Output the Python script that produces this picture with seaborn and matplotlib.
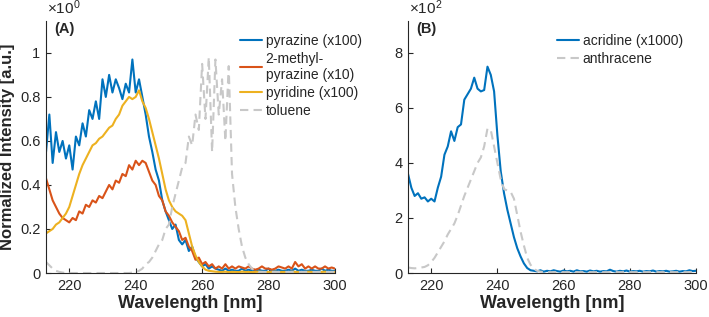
import numpy as np
import pandas as pd
import matplotlib
matplotlib.use('Agg')
import matplotlib.pyplot as plt
import seaborn as sns

# wavelength grid (nm), 1 nm steps
WL = list(range(213, 301))

# panel A (normalized, x10^0)
pyrazine = [0.55, 0.72, 0.50, 0.64, 0.55, 0.60, 0.52, 0.58, 0.47, 0.62,
            0.58, 0.68, 0.62, 0.74, 0.70, 0.78, 0.70, 0.88, 0.80, 0.90,
            0.82, 0.88, 0.84, 0.79, 0.86, 0.82, 0.97, 0.82, 0.88, 0.80,
            0.72, 0.62, 0.55, 0.47, 0.42, 0.33, 0.28, 0.24, 0.20, 0.22,
            0.15, 0.13, 0.15, 0.10, 0.12, 0.07, 0.05, 0.03, 0.04, 0.02,
            0.03, 0.02,
            0.015, 0.01, 0.02, 0.01, 0.015, 0.01, 0.01, 0.02, 0.01, 0.015,
            0.01, 0.01, 0.015, 0.01, 0.01, 0.02, 0.01, 0.01, 0.015, 0.01,
            0.01, 0.015, 0.01, 0.02, 0.01, 0.015, 0.01, 0.01, 0.015, 0.01,
            0.01, 0.02, 0.01, 0.015, 0.01, 0.01]
methylpyrazine = [0.43, 0.38, 0.33, 0.30, 0.27, 0.25, 0.24, 0.23, 0.25, 0.24,
                  0.28, 0.27, 0.31, 0.30, 0.33, 0.32, 0.35, 0.34, 0.37, 0.40,
                  0.38, 0.42, 0.41, 0.45, 0.44, 0.49, 0.47, 0.51, 0.49, 0.51,
                  0.50, 0.46, 0.42, 0.40, 0.35, 0.33, 0.28, 0.26, 0.23, 0.21,
                  0.19, 0.15, 0.16, 0.12, 0.10, 0.06, 0.07, 0.04, 0.05, 0.03,
                  0.04, 0.02,
                  0.03, 0.02, 0.04, 0.02, 0.03, 0.02, 0.03, 0.025, 0.02, 0.03,
                  0.02, 0.015, 0.02, 0.03, 0.02, 0.02, 0.015, 0.02, 0.03, 0.025,
                  0.02, 0.03, 0.02, 0.05, 0.03, 0.04, 0.02, 0.03, 0.02, 0.03,
                  0.02, 0.02, 0.03, 0.02, 0.025, 0.02]
pyridine = [0.18, 0.19, 0.20, 0.22, 0.23, 0.25, 0.27, 0.30, 0.35, 0.40,
            0.45, 0.49, 0.52, 0.55, 0.58, 0.59, 0.61, 0.62, 0.64, 0.66,
            0.67, 0.70, 0.72, 0.76, 0.78, 0.80, 0.79, 0.80, 0.83, 0.78,
            0.75, 0.70, 0.64, 0.58, 0.52, 0.45, 0.38, 0.33, 0.30, 0.28,
            0.27, 0.26, 0.24, 0.18, 0.12, 0.08, 0.05, 0.03, 0.015, 0.01,
            0.008, 0.006,
            0.005, 0.005, 0.006, 0.004, 0.005, 0.005, 0.004, 0.006, 0.005, 0.005,
            0.004, 0.005, 0.006, 0.005, 0.004, 0.005, 0.005, 0.006, 0.004, 0.005,
            0.005, 0.004, 0.006, 0.005, 0.005, 0.004, 0.005, 0.006, 0.005, 0.004,
            0.005, 0.005, 0.006, 0.004, 0.005, 0.005]
toluene = [0.05, 0.035, 0.02, 0.01, 0.005, 0.002, 0.0, 0.0, 0.0, 0.0,
           0.0, 0.0, 0.0, 0.0, 0.0, 0.0, 0.0, 0.0, 0.0, 0.0,
           0.0, 0.0, 0.0, 0.0, 0.0, 0.0, 0.002, 0.005, 0.01, 0.02,
           0.04, 0.05, 0.07, 0.10, 0.13, 0.15, 0.20, 0.22, 0.30, 0.36,
           0.42, 0.48, 0.50, 0.62, 0.58, 0.72, 0.65, 0.95, 0.70, 0.98,
           0.55, 0.97, 0.72, 0.88, 0.60, 0.94, 0.45, 0.30, 0.20, 0.12,
           0.07, 0.04, 0.02, 0.01, 0.005, 0.005, 0.005, 0.005, 0.005, 0.005,
           0.005, 0.005, 0.005, 0.005, 0.005, 0.005, 0.005, 0.005, 0.005, 0.005,
           0.005, 0.005, 0.005, 0.005, 0.005, 0.005, 0.005, 0.005]

# panel B (x10^2)
acridine = [3.60, 3.10, 2.80, 2.90, 2.70, 2.75, 2.60, 2.70, 2.60, 3.10,
            3.50, 4.30, 4.60, 5.15, 4.80, 5.30, 5.40, 6.30, 6.50, 6.70,
            7.10, 6.70, 6.60, 6.65, 7.50, 7.20, 6.60, 5.00, 3.70, 2.90,
            2.30, 1.80, 1.30, 0.90, 0.60, 0.35, 0.18, 0.10, 0.08,
            0.06, 0.10, 0.05, 0.08, 0.06, 0.10, 0.07, 0.05, 0.09, 0.06,
            0.08, 0.05, 0.10, 0.06, 0.07, 0.05, 0.09, 0.06, 0.08, 0.05,
            0.07, 0.06, 0.12, 0.07, 0.05, 0.08, 0.06, 0.09, 0.05, 0.07,
            0.06, 0.08, 0.05, 0.07, 0.06, 0.09, 0.05, 0.07, 0.06, 0.08,
            0.05, 0.06, 0.08, 0.05, 0.07, 0.06, 0.10, 0.07, 0.08]
anthracene = [0.20, 0.18, 0.17, 0.18, 0.20, 0.22, 0.28, 0.40, 0.55, 0.75,
              0.95, 1.15, 1.40, 1.60, 1.80, 2.10, 2.45, 2.80, 3.10, 3.40,
              3.70, 4.00, 4.20, 4.60, 5.25, 5.20, 4.60, 4.00, 3.40, 3.05,
              3.00, 2.95, 2.70, 2.10, 1.50, 1.00, 0.55, 0.30, 0.15, 0.08,
              0.05, 0.04, 0.03, 0.03, 0.03, 0.03, 0.03, 0.03, 0.03, 0.03,
              0.03, 0.03, 0.03, 0.03, 0.03, 0.03, 0.03, 0.03, 0.03, 0.03,
              0.03, 0.03, 0.03, 0.03, 0.03, 0.03, 0.03, 0.03, 0.03, 0.03,
              0.03, 0.03, 0.03, 0.03, 0.03, 0.03, 0.03, 0.03, 0.03, 0.03,
              0.03, 0.03, 0.03, 0.03, 0.03, 0.03, 0.03, 0.03]

BLUE = '#0072BD'
ORANGE = '#D95319'
YELLOW = '#EDB120'
GRAY = '#C8C8C8'
DARK = '#262626'
DASH = (0, (4, 2.5))

sns.set_style('ticks')
plt.rcParams['font.family'] = ['Liberation Sans', 'DejaVu Sans']
plt.rcParams['mathtext.fontset'] = 'custom'
plt.rcParams['mathtext.rm'] = 'Liberation Sans'
plt.rcParams['mathtext.it'] = 'Liberation Sans'


def style_axes(ax, ylim, yticks, yticklabels, letter, power):
    ax.set_xlim(213, 300)
    ax.set_ylim(*ylim)
    ax.set_xticks([220, 240, 260, 280, 300])
    ax.set_yticks(yticks)
    ax.set_yticklabels(yticklabels)
    ax.tick_params(direction='in', length=3.5, width=0.8, labelsize=10.5,
                   colors=DARK, pad=4)
    for s in ('top', 'right'):
        ax.spines[s].set_visible(False)
    for s in ('left', 'bottom'):
        ax.spines[s].set_color(DARK)
        ax.spines[s].set_linewidth(0.8)
    ax.set_xlabel('Wavelength [nm]', fontsize=13, fontweight='bold',
                  color=DARK, labelpad=2)
    ax.text(0.03, 0.995, letter, transform=ax.transAxes, fontsize=10.5,
            fontweight='bold', va='top', ha='left', color=DARK)
    ax.text(0.005, 1.015, r'$\times10^{%d}$' % power, transform=ax.transAxes,
            fontsize=11, va='bottom', ha='left', color=DARK)


fig = plt.figure(figsize=(7.09, 3.17), dpi=100)
axA = fig.add_axes([0.0649, 0.1388, 0.4076, 0.795])
axB = fig.add_axes([0.5755, 0.1388, 0.4062, 0.795])

dfA = pd.DataFrame({'wl': WL, 'pyrazine': pyrazine, 'methyl': methylpyrazine,
                    'pyridine': pyridine, 'toluene': toluene})
sns.lineplot(data=dfA, x='wl', y='pyrazine', ax=axA, color=BLUE, lw=1.5,
             label='pyrazine (x100)')
sns.lineplot(data=dfA, x='wl', y='methyl', ax=axA, color=ORANGE, lw=1.5,
             label='2-methyl-\npyrazine (x10)')
sns.lineplot(data=dfA, x='wl', y='pyridine', ax=axA, color=YELLOW, lw=1.5,
             label='pyridine (x100)')
sns.lineplot(data=dfA, x='wl', y='toluene', ax=axA, color=GRAY, lw=1.5,
             linestyle=DASH, label='toluene')

dfB = pd.DataFrame({'wl': WL, 'acridine': acridine, 'anthracene': anthracene})
sns.lineplot(data=dfB, x='wl', y='acridine', ax=axB, color=BLUE, lw=1.5,
             label='acridine (x1000)')
sns.lineplot(data=dfB, x='wl', y='anthracene', ax=axB, color=GRAY, lw=1.5,
             linestyle=DASH, label='anthracene')

style_axes(axA, (0, 1.145), [0, 0.2, 0.4, 0.6, 0.8, 1.0],
           ['0', '0.2', '0.4', '0.6', '0.8', '1'], '(A)', 0)
style_axes(axB, (0, 9.16), [0, 2, 4, 6, 8],
           ['0', '2', '4', '6', '8'], '(B)', 2)
axA.set_ylabel('Normalized Intensity [a.u.]', fontsize=12,
               fontweight='bold', color=DARK, labelpad=4)
axB.set_ylabel('')

for ax, x0 in ((axA, 0.671), (axB, 0.517)):
    ax.legend(loc='upper left', bbox_to_anchor=(x0, 0.95), frameon=False,
              fontsize=10, handlelength=1.6, handletextpad=0.25,
              labelspacing=0.3, borderaxespad=0, borderpad=0)

fig.savefig('out.png', dpi=100)
